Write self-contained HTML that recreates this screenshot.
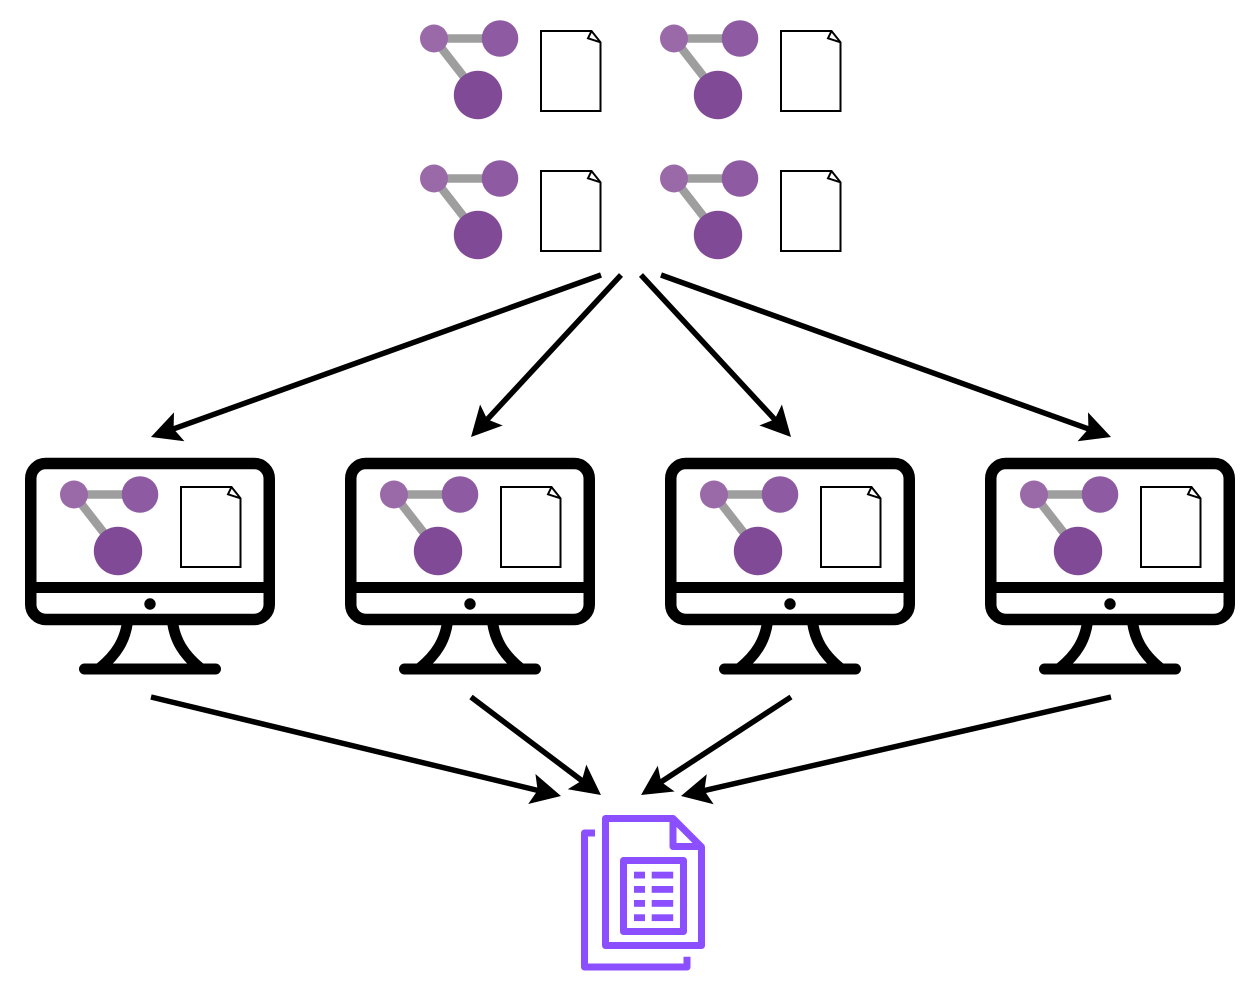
<!DOCTYPE html>
<html>
<head>
<meta charset="utf-8">
<style>
html,body{margin:0;padding:0;background:#fff}
svg{display:block}
</style>
</head>
<body>
<svg xmlns="http://www.w3.org/2000/svg" width="1260" height="990" viewBox="0 0 1260 990">
<defs>
  <marker id="a" markerUnits="userSpaceOnUse" markerWidth="40" markerHeight="40" refX="15" refY="20" orient="auto" overflow="visible">
    <path d="M30 20 L0 4.6 L6 20 L0 35.4 Z" fill="#000"/>
  </marker>
  <g id="g">
    <path d="M434 38.5H500M434 38.5L478 95" fill="none" stroke="#9e9e9e" stroke-width="8.5"/>
    <circle cx="434" cy="38.5" r="14" fill="#9a6aa8"/>
    <circle cx="500" cy="38.5" r="18.3" fill="#8e5ba3"/>
    <circle cx="478" cy="95" r="24.2" fill="#804a96"/>
    <path d="M541 31H591.5L600.5 42.3V111H541Z" fill="#fff" stroke="#000" stroke-width="2"/>
    <path d="M591.5 31L588 38.3L600.5 42.3" fill="none" stroke="#000" stroke-width="2"/>
  </g>
  <g id="m" fill="none" stroke="#000">
    <rect x="30.75" y="463.5" width="238.5" height="156" rx="15" stroke-width="11.5"/>
    <path d="M30 587.5H270" stroke-width="11"/>
    <circle cx="150" cy="604" r="5.7" fill="#000" stroke="none"/>
    <path d="M127.5 622C125 640 117 654 100 668M172.5 622C175 640 183 654 200 668" stroke-width="11"/>
    <path d="M84.5 669H215.5" stroke-width="11" stroke-linecap="round"/>
  </g>
</defs>

<use href="#g"/>
<use href="#g" x="240"/>
<use href="#g" y="140"/>
<use href="#g" x="240" y="140"/>

<g fill="none" stroke="#000" stroke-width="5.5">
  <path d="M601 275L165.1 431.9" marker-end="url(#a)"/>
  <path d="M621 275L481.2 426" marker-end="url(#a)"/>
  <path d="M641 275L780.8 426" marker-end="url(#a)"/>
  <path d="M661 275L1096.9 431.9" marker-end="url(#a)"/>
  <path d="M151 697L546.4 792.5" marker-end="url(#a)"/>
  <path d="M471 697L589 786" marker-end="url(#a)"/>
  <path d="M791 697L653.6 786.8" marker-end="url(#a)"/>
  <path d="M1111 697L695.6 792.6" marker-end="url(#a)"/>
</g>

<use href="#m"/>
<use href="#m" x="320"/>
<use href="#m" x="640"/>
<use href="#m" x="960"/>

<use href="#g" x="-360" y="456"/>
<use href="#g" x="-40" y="456"/>
<use href="#g" x="280" y="456"/>
<use href="#g" x="600" y="456"/>

<g fill="none" stroke="#8c4fff" stroke-width="7" stroke-linejoin="round">
  <path d="M605.5 818.5H673L701.5 847V945.5H605.5Z"/>
  <path d="M673 818.5V846.5H701.5"/>
  <rect x="623.5" y="860.5" width="60" height="71"/>
  <path d="M595 833H584.5V967H687V956.7"/>
</g>
<g fill="#8c4fff">
  <rect x="634" y="871.7" width="11" height="6.8"/><rect x="651.7" y="871.7" width="21.5" height="6.8"/>
  <rect x="634" y="886" width="11" height="6.8"/><rect x="651.7" y="886" width="21.5" height="6.8"/>
  <rect x="634" y="900" width="11" height="6.8"/><rect x="651.7" y="900" width="21.5" height="6.8"/>
  <rect x="634" y="914.3" width="11" height="6.8"/><rect x="651.7" y="914.3" width="21.5" height="6.8"/>
</g>
</svg>
</body>
</html>
